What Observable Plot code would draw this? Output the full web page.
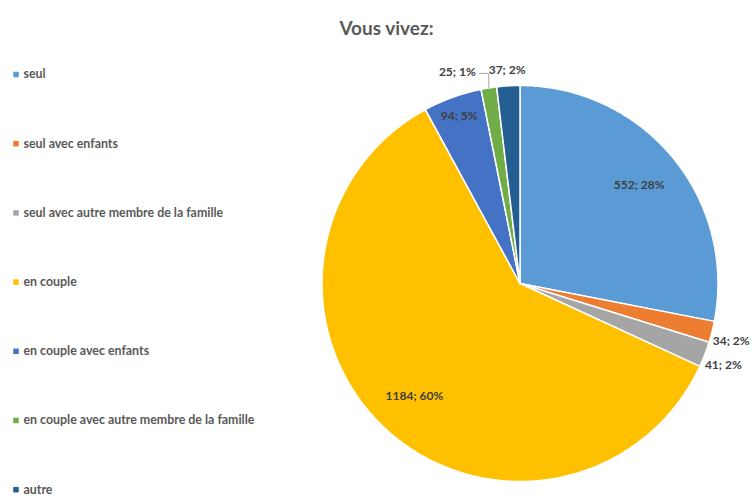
<!DOCTYPE html>
<html>
<head>
<meta charset="utf-8">
<script src="https://cdn.jsdelivr.net/npm/d3@7"></script>
<script src="https://cdn.jsdelivr.net/npm/@observablehq/plot@0.6"></script>
<style>
  html, body { margin: 0; padding: 0; background: #fff; }
  #chart { width: 752px; height: 496px; }
</style>
</head>
<body>
<div id="chart"></div>
<script>
const title = "Vous vivez:";
const categories = [
  "seul",
  "seul avec enfants",
  "seul avec autre membre de la famille",
  "en couple",
  "en couple avec enfants",
  "en couple avec autre membre de la famille",
  "autre"
];
const values = [552, 34, 41, 1184, 94, 25, 37];
const colors = ["#5B9BD5", "#ED7D31", "#A5A5A5", "#FFC000", "#4472C4", "#70AD47", "#255E91"];

// layout (pixels)
const W = 752, H = 496;
const cx = 519.5, cy = 283, R = 198;
const total = d3.sum(values);
const arcs = d3.pie().sort(null).value(d => d)(values);

const pt = (a, r) => [cx + r * Math.sin(a), cy - r * Math.cos(a)];

// slice polygons
const slicePts = [];
arcs.forEach((a, i) => {
  const cat = categories[i];
  slicePts.push({cat, x: cx, y: cy});
  const n = Math.max(2, Math.ceil((a.endAngle - a.startAngle) / 0.01));
  for (let k = 0; k <= n; k++) {
    const t = a.startAngle + (a.endAngle - a.startAngle) * k / n;
    const [x, y] = pt(t, R);
    slicePts.push({cat, x, y});
  }
});

// labels
const labels = arcs.map((a, i) => {
  const share = values[i] / total;
  const mid = (a.startAngle + a.endAngle) / 2;
  const text = `${values[i]}; ${Math.round(share * 100)}%`;
  const inside = share >= 0.04;
  const r = inside ? (share > 0.2 ? 0.78 * R : 0.9 * R) : 1.1 * R;
  const [x, y] = pt(mid, r);
  return {i, text, x, y: inside ? y : y + 4, inside, mid, w: text.length * 6.3};
});
// simple collision avoidance for outside labels
const leaders = [];
const outside = labels.filter(d => !d.inside).sort((a, b) => b.i - a.i);
const placed = [];
outside.forEach(l => {
  for (const p of placed) {
    if (Math.abs(p.y - l.y) < 13 && Math.abs(p.x - l.x) < (p.w + l.w) / 2 + 4) {
      const nx = p.x - (p.w + l.w) / 2 - 12;
      const [ax, ay] = pt(l.mid, R);
      l.x = nx;
      leaders.push({id: l.i, x: l.x + l.w / 2 + 3, y: l.y + 1});
      leaders.push({id: l.i, x: ax, y: l.y + 1});
      leaders.push({id: l.i, x: ax, y: ay});
    }
  }
  placed.push(l);
});

// legend
const legend = categories.map((c, i) => ({cat: c, x: 15.5, y: 74 + i * 69.2}));

const chart = Plot.plot({
  width: W, height: H,
  margin: 0,
  x: {domain: [0, W], range: [0, W], axis: null},
  y: {domain: [0, H], range: [0, H], axis: null},
  color: {domain: categories, range: colors},
  style: {fontFamily: "Lato, 'Open Sans', sans-serif", background: "#fff"},
  marks: [
    Plot.line(slicePts, {x: "x", y: "y", z: "cat", fill: "cat", stroke: "white", strokeWidth: 1.5, curve: "linear-closed", strokeLinejoin: "round"}),
    Plot.text(labels, {x: "x", y: "y", text: "text", fill: "#404040", fontWeight: "bold", fontSize: 12}),
    Plot.line(leaders, {x: "x", y: "y", z: "id", stroke: "#a6a6a6", strokeWidth: 1}),
    Plot.dot(legend, {x: "x", y: "y", fill: "cat", symbol: "square", r: 3.1}),
    Plot.text(legend, {x: d => d.x + 7.5, y: "y", text: "cat", textAnchor: "start", fill: "#595959", fontWeight: "bold", fontSize: 12.4}),
    Plot.text([title], {x: [386], y: [28], text: d => d, fill: "#595959", fontWeight: "bold", fontSize: 19})
  ]
});
document.getElementById("chart").appendChild(chart);
</script>
</body>
</html>
